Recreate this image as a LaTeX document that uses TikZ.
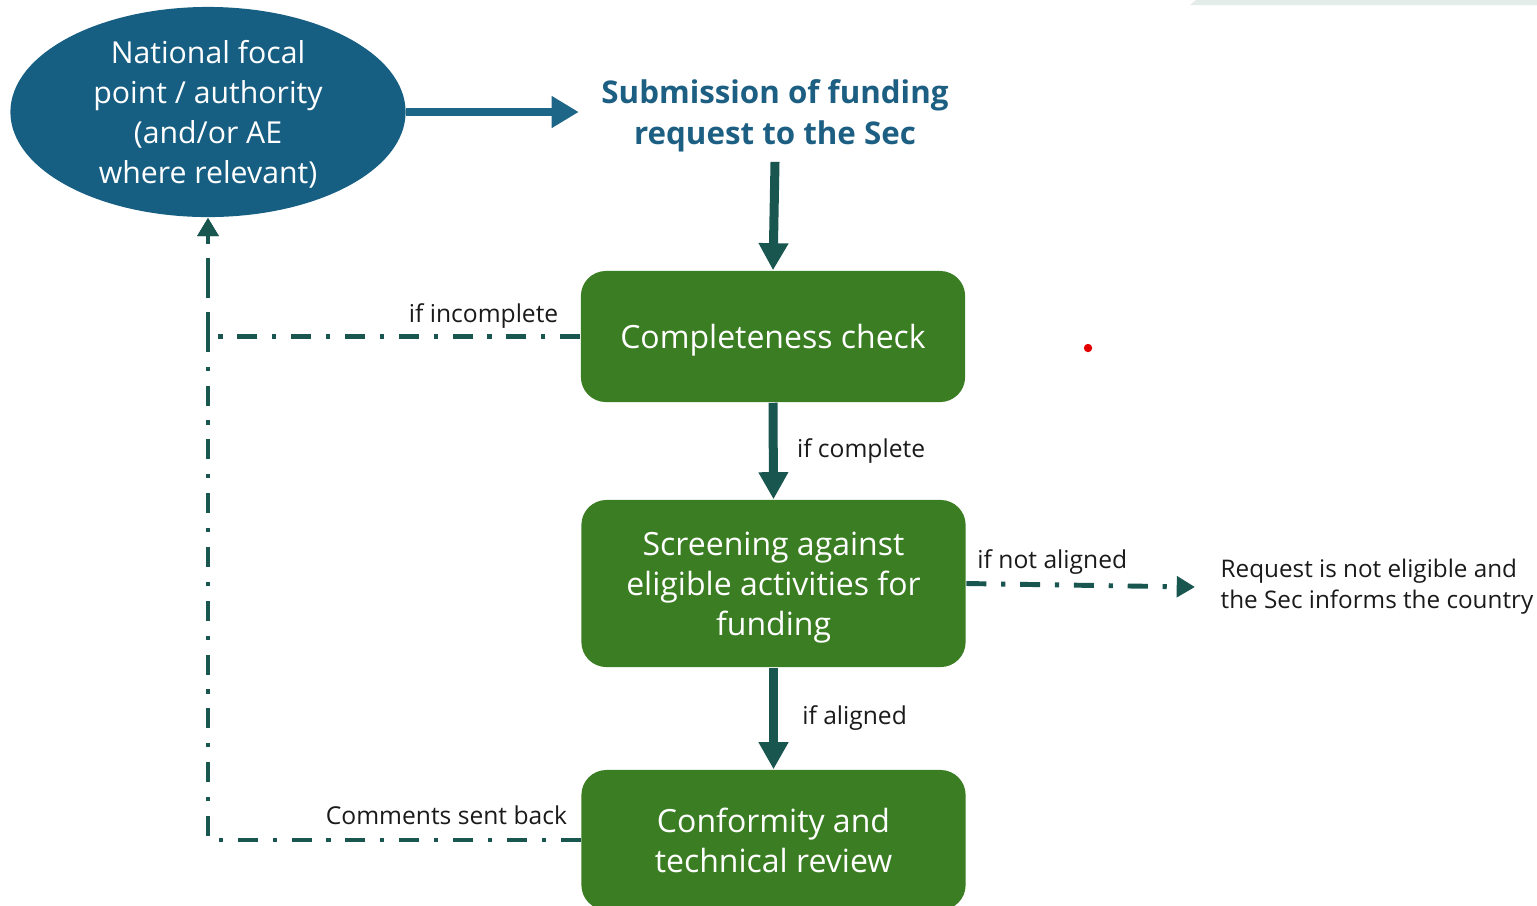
\documentclass[tikz,border=0pt]{standalone}
\usepackage{fontspec}
\setmainfont{Open Sans}
\usetikzlibrary{shapes.geometric,arrows.meta}
\definecolor{ellblue}{HTML}{175F82}
\definecolor{subblue}{HTML}{1D5F82}
\definecolor{arrblue}{HTML}{1E6688}
\definecolor{boxgreen}{HTML}{3A7D22}
\definecolor{teal}{HTML}{1A5650}
\definecolor{band}{HTML}{E3ECE8}
\definecolor{txt}{HTML}{1A1A1A}
\tikzset{
  boxtext/.style={font=\fontsize{9.1pt}{11.4pt}\selectfont, text=white, align=center},
  greenbox/.style={rectangle, rounded corners=0.25cm, fill=boxgreen, minimum width=3.84cm, inner sep=0pt},
  intext/.style={boxtext, yshift=-0.04cm},
  lbl/.style={font=\fontsize{7pt}{8.8pt}\selectfont, text=txt, inner sep=1.5pt},
  mainarrow/.style={draw=teal, line width=2.56pt, -{Triangle[length=7.7pt,width=8pt]}},
  backarrow/.style={draw=teal, line width=1.4pt, dash pattern=on 5.7pt off 4.2pt on 1.2pt off 4.2pt, -{Triangle[length=5.2pt,width=5.8pt]}}
}
\begin{document}
\begin{tikzpicture}[x=0.01cm,y=-0.01cm]
\useasboundingbox (0,0) rectangle (1537,905);
\clip (0,0) rectangle (1537,905);
\fill[band] (1190,5) -- (1196,0) -- (1537,0) -- (1537,5) -- cycle;
\fill[red!90!black] (1088,348) circle (4.2);

\node[ellipse, fill=ellblue, minimum width=3.95cm, minimum height=2.1cm, inner sep=0pt,
  label={[boxtext, font=\fontsize{8.6pt}{11.4pt}\selectfont, yshift=-0.025cm]center:{National focal\\point / authority\\(and/or AE\\where relevant)}}] (ell) at (208,112) {};
\node[font=\fontsize{8.9pt}{11.6pt}\selectfont\bfseries, text=subblue, align=center, inner xsep=0.22cm, inner ysep=0.09cm] (sub) at (775,116)
  {Submission of funding\\request to the Sec};
\node[greenbox, minimum height=1.31cm, label={[intext]center:Completeness check}] (cc) at (773,336.5) {};
\node[greenbox, minimum height=1.67cm, label={[intext]center:{Screening against\\eligible activities for\\funding}}] (sc) at (773.5,583.5) {};
\node[greenbox, minimum height=1.40cm, label={[boxtext]center:{Conformity and\\technical review}}] (cr) at (773.5,840) {};
\node[lbl, font=\fontsize{6.9pt}{8.8pt}\selectfont, anchor=west, align=left, inner sep=0pt] (rq) at (1220,587) {Request is not eligible and\\the Sec informs the country};

\draw[draw=arrblue, line width=2.1pt, -{Triangle[length=7.7pt,width=8.6pt]}] (ell.east) -- (ell.east -| sub.west);
\draw[mainarrow] (sub.south) -- (cc.north);
\draw[mainarrow] (cc.south) -- node[lbl, right, xshift=0.14cm] {if complete} (sc.north);
\draw[mainarrow] (sc.south) -- node[lbl, right, xshift=0.19cm] {if aligned} (cr.north);
\draw[backarrow] (sc.east) -- node[lbl, pos=0.015, anchor=south west, yshift=0.01cm] {if not aligned} ([xshift=-0.25cm]rq.west);
\draw[backarrow] (cc.west) -| node[lbl, pos=0.019, anchor=south east] {if incomplete} (ell.south);
\draw[backarrow] (cr.west) -| node[lbl, pos=0.008, anchor=south east, yshift=0.08cm] {Comments sent back} (ell.south);
\end{tikzpicture}
\end{document}
